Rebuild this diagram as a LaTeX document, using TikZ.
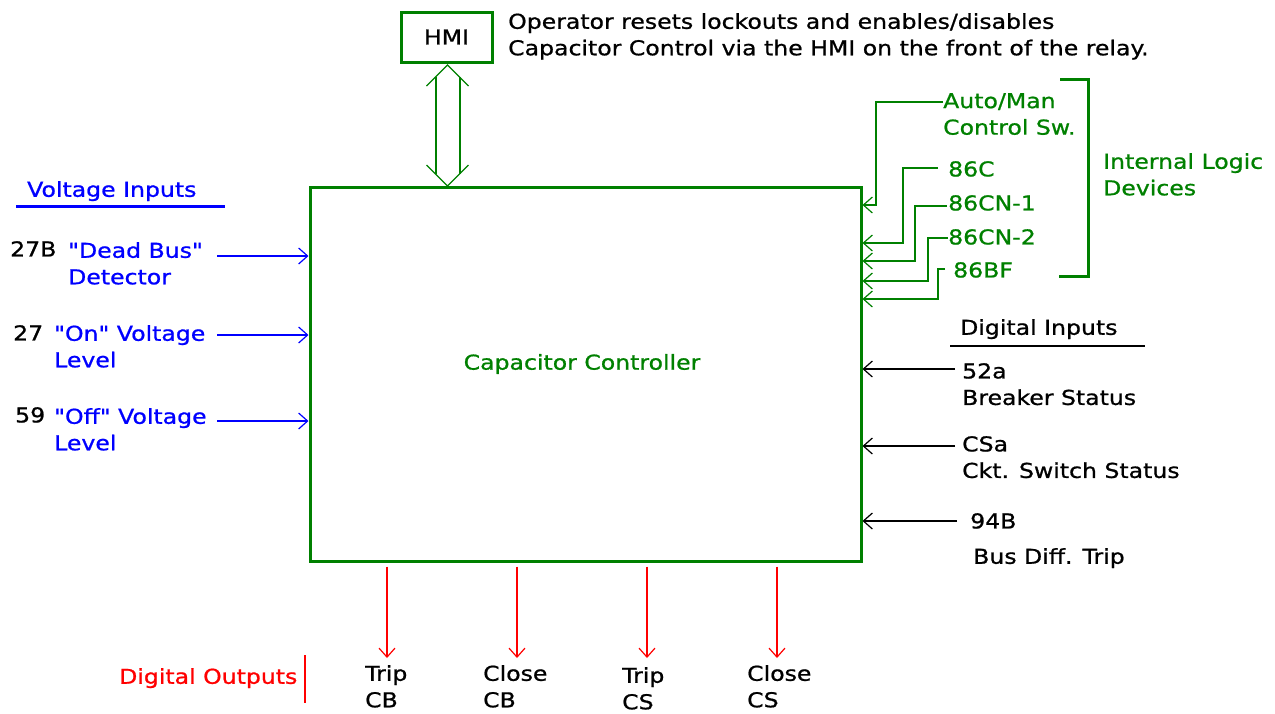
\documentclass[tikz,border=0pt]{standalone}
\usepackage{fontspec}
\setmainfont[FakeStretch=1.15, FakeBold=0.9, Ligatures=TeXOff]{DejaVu Sans}
\usetikzlibrary{arrows.meta,calc}
\definecolor{cgreen}{RGB}{0,128,0}
\definecolor{cblue}{RGB}{0,0,255}
\definecolor{cred}{RGB}{255,0,0}
\tikzset{
  txt/.style={inner sep=0pt, anchor=north west, align=left, font=\fontsize{20.5}{26.5}\selectfont},
  barb/.style={-{Straight Barb[length=9pt,width=16pt]}, line width=1.2pt},
  vin/.style={barb, draw=cblue},
  gin/.style={barb, draw=cgreen},
  din/.style={barb, draw=black},
  dout/.style={barb, draw=cred},
  gbox/.style={draw=cgreen, line width=3pt, inner sep=0pt}
}
\begin{document}
\begin{tikzpicture}[x=1pt,y=-1pt]
\useasboundingbox (0,0) rectangle (1275,713);
% main box
\node[gbox, minimum width=551pt, minimum height=374pt] (box) at (585.5,374) {};
\node[txt, anchor=center, text=cgreen] (ctrl) at (582,364) {Capacitor Controller};
% HMI
\node[gbox, minimum width=91pt, minimum height=50pt, font=\fontsize{20.5}{26.5}\selectfont] (hmi) at (446.5,37) {HMI};
\node[txt] (op) at (508,13) {Operator resets lockouts and enables/disables\\Capacitor Control via the HMI on the front of the relay.};
% double arrow
\coordinate (ht) at (447.5,65);
\coordinate (hb) at (447.5,186);
\draw[cgreen, line width=1.2pt] ($(ht)+(-21,21)$) -- (ht) -- ($(ht)+(21,21)$);
\draw[cgreen, line width=1.2pt] ($(hb)+(-21,-21)$) -- (hb) -- ($(hb)+(21,-21)$);
\draw[cgreen, line width=1.2pt] (436,77) -- (436,174);
\draw[cgreen, line width=1.2pt] (460,77) -- (460,174);
% voltage inputs
\node[txt, text=cblue] (vi) at (27,181) {Voltage Inputs};
\draw[cblue, line width=3pt] (16,206) -- (225,206);
\node[txt] (n27b) at (10,241) {27B};
\node[txt, text=cblue] (dbus) at (68,242) {"Dead Bus"\\Detector};
\node[txt] (n27) at (13,325) {27};
\node[txt, text=cblue] (onv) at (54,325) {"On" Voltage\\Level};
\node[txt] (n59) at (15,407) {59};
\node[txt, text=cblue] (offv) at (54,408) {"Off" Voltage\\Level};
\coordinate (v1) at (217,256);
\coordinate (v2) at (217,335);
\coordinate (v3) at (217,421);
\draw[vin] (v1) -- (v1 -| box.west);
\draw[vin] (v2) -- (v2 -| box.west);
\draw[vin] (v3) -- (v3 -| box.west);
% internal logic devices
\node[txt, text=cgreen] (am) at (943,93) {Auto/Man\\Control Sw.};
\node[txt, text=cgreen] (c86) at (948,161) {86C};
\node[txt, text=cgreen] (cn1) at (948,195) {86CN-1};
\node[txt, text=cgreen] (cn2) at (948,229) {86CN-2};
\node[txt, text=cgreen] (bf) at (953,262) {86BF};
\node[txt, text=cgreen] (ild) at (1103,153) {Internal Logic\\Devices};
\draw[cgreen, line width=3pt] (1060,79) -- (1088,79) -- (1088,276) -- (1059,276);
\draw[gin] (943,102) -| (876,205) -- (box.east |- 0,205);
\draw[gin] (938,168) -| (903,243) -- (box.east |- 0,243);
\draw[gin] (947,206) -| (915,261) -- (box.east |- 0,261);
\draw[gin] (948,238) -| (928,281) -- (box.east |- 0,281);
\draw[gin] (945,269) -| (938,299) -- (box.east |- 0,299);
% digital inputs
\node[txt] (di) at (960,319) {Digital Inputs};
\draw[black, line width=2pt] (950,346) -- (1145,346);
\node[txt] (b52) at (962,363) {52a\\Breaker Status};
\node[txt] (csa) at (962,436) {CSa\\Ckt. Switch Status};
\node[txt] (b94) at (970,513) {94B};
\node[txt] (bdt) at (973,548) {Bus Diff. Trip};
\coordinate (d1) at (955,369);
\coordinate (d2) at (955,446);
\coordinate (d3) at (957,521);
\draw[din] (d1) -- (d1 -| box.east);
\draw[din] (d2) -- (d2 -| box.east);
\draw[din] (d3) -- (d3 -| box.east);
% digital outputs
\node[txt, text=cred] (dout) at (119,668) {Digital Outputs};
\draw[cred, line width=2.5pt] (305,655) -- (305,703);
\node[txt] (tcb) at (365,665) {Trip\\CB};
\node[txt] (ccb) at (483,665) {Close\\CB};
\node[txt] (tcs) at (622,667) {Trip\\CS};
\node[txt] (ccs) at (747,665) {Close\\CS};
\draw[dout] (box.south -| 387,0) ++(0,4) -- (387,658);
\draw[dout] (box.south -| 517,0) ++(0,4) -- (517,658);
\draw[dout] (box.south -| 647,0) ++(0,4) -- (647,658);
\draw[dout] (box.south -| 777,0) ++(0,4) -- (777,658);
\end{tikzpicture}
\end{document}
